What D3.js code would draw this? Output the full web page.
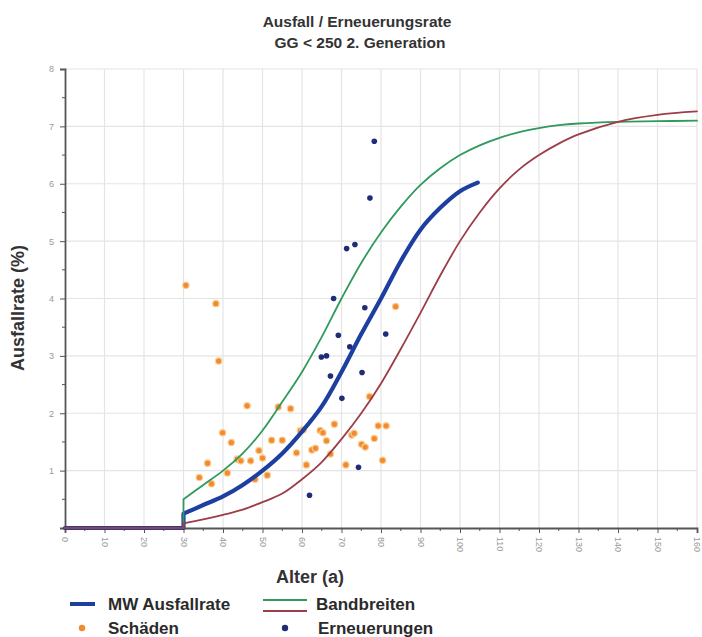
<!DOCTYPE html>
<html>
<head>
<meta charset="utf-8">
<script src="https://cdn.jsdelivr.net/npm/d3@7"></script>
<style>
  body { margin: 0; background: #fff; }
  svg { font-family: "Liberation Sans", Arial, sans-serif; }
</style>
</head>
<body>
<script>
// Ausfall / Erneuerungsrate chart

var width = 702;
var height = 637;

// curves (age in years, rate in %)
var kurveAlter = [30, 35, 40, 45, 50, 55, 60, 65, 70, 75, 80, 85, 90, 95, 100, 104.5];
var mwWerte    = [0.25, 0.4, 0.55, 0.75, 1.0, 1.3, 1.68, 2.12, 2.72, 3.38, 4.0, 4.65, 5.2, 5.58, 5.87, 6.02];

var bandAlter  = [30, 35, 40, 45, 50, 55, 60, 65, 70, 75, 80, 85, 90, 95, 100, 105, 110, 115, 120, 125, 130, 140, 150, 160];
var bandOben   = [0.5, 0.75, 1.0, 1.3, 1.7, 2.2, 2.72, 3.33, 4.0, 4.62, 5.15, 5.6, 5.98, 6.27, 6.5, 6.67, 6.8, 6.9, 6.97, 7.02, 7.05, 7.08, 7.09, 7.1];
var bandUnten  = [0.08, 0.15, 0.23, 0.32, 0.45, 0.6, 0.85, 1.15, 1.55, 2.0, 2.52, 3.12, 3.75, 4.4, 5.0, 5.5, 5.92, 6.25, 6.5, 6.7, 6.86, 7.08, 7.2, 7.26];

// flat start before age 30
var startAlter = [0, 30];

// Schäden (orange points)
var schadenAlter = [30.6, 38.2, 38.9, 46.1, 54, 57.1, 39.9, 42.1, 36.1, 34, 37.1, 41.1, 43.6, 44.5, 47,
  49.1, 50, 48.1, 51.2, 52.3, 55, 58.6, 59.6, 60.3, 61.1, 62.5, 63.4, 64.6, 65.3, 66.2, 67.2, 68.2,
  71.1, 72.6, 73.2, 75.1, 76, 77.1, 78.3, 79.3, 81.3, 80.4, 83.7];
var schadenWert = [4.23, 3.91, 2.91, 2.13, 2.11, 2.08, 1.66, 1.49, 1.13, 0.88, 0.77, 0.96, 1.2, 1.17, 1.17,
  1.35, 1.22, 0.85, 0.92, 1.53, 1.53, 1.31, 1.7, 1.71, 1.1, 1.36, 1.39, 1.7, 1.66, 1.52, 1.29, 1.81,
  1.1, 1.62, 1.65, 1.46, 1.41, 2.29, 1.56, 1.78, 1.78, 1.18, 3.86];

// Erneuerungen (blue points)
var erneuerAlter = [61.9, 64.9, 66.2, 67.2, 68, 69.2, 70.1, 71.3, 72.1, 73.4, 74.3, 75.2, 75.9, 77.2, 78.3, 81.2];
var erneuerWert  = [0.57, 2.98, 3.0, 2.65, 4.0, 3.36, 2.26, 4.87, 3.16, 4.94, 1.06, 2.71, 3.84, 5.75, 6.74, 3.38];

var xTicks = d3.range(0, 161, 10);
var yTicks = [1, 2, 3, 4, 5, 6, 7, 8];

var svg = d3.select("body").append("svg")
    .attr("width", width)
    .attr("height", height);

var x = d3.scaleLinear().domain([0, 160]).range([65, 697]);
var y = d3.scaleLinear().domain([0, 8]).range([528, 69]);

// title
svg.append("text")
    .attr("x", 357).attr("y", 27)
    .attr("text-anchor", "middle")
    .attr("font-size", 15.5).attr("font-weight", "bold").attr("fill", "#333")
    .text("Ausfall / Erneuerungsrate");
svg.append("text")
    .attr("x", 360).attr("y", 48)
    .attr("text-anchor", "middle")
    .attr("font-size", 15.5).attr("font-weight", "bold").attr("fill", "#333")
    .text("GG < 250 2. Generation");

// grid
svg.append("g").selectAll("line")
  .data(xTicks.slice(1))
  .enter().append("line")
    .attr("x1", function(d) { return x(d); })
    .attr("x2", function(d) { return x(d); })
    .attr("y1", y(8)).attr("y2", y(0))
    .attr("stroke", "#e4e4e4").attr("stroke-width", 1.2);
svg.append("g").selectAll("line")
  .data(yTicks)
  .enter().append("line")
    .attr("x1", x(0)).attr("x2", x(160))
    .attr("y1", function(d) { return y(d); })
    .attr("y2", function(d) { return y(d); })
    .attr("stroke", "#e4e4e4").attr("stroke-width", 1.2);

// y axis
var yAxis = svg.append("g")
    .attr("transform", "translate(" + x(0) + ",0)")
    .call(d3.axisLeft(y).tickValues(yTicks).tickSize(5).tickPadding(6));
yAxis.append("g").selectAll("line")
  .data(d3.range(0.5, 8, 1))
  .enter().append("line")
    .attr("x1", -3).attr("x2", 0)
    .attr("y1", function(d) { return y(d); })
    .attr("y2", function(d) { return y(d); })
    .attr("stroke", "#555");

// x axis
var xAxis = svg.append("g")
    .attr("transform", "translate(0," + y(0) + ")")
    .call(d3.axisBottom(x).tickValues(xTicks).tickSize(5).tickPadding(6));
xAxis.append("g").selectAll("line")
  .data(d3.range(5, 160, 10))
  .enter().append("line")
    .attr("x1", function(d) { return x(d); })
    .attr("x2", function(d) { return x(d); })
    .attr("y1", 0).attr("y2", 3)
    .attr("stroke", "#555");
xAxis.selectAll(".tick text")
    .attr("transform", "rotate(90)")
    .attr("text-anchor", "start")
    .attr("x", 9).attr("y", 0).attr("dy", "0.35em");

[yAxis, xAxis].forEach(function(a) {
  a.select(".domain").attr("stroke", "#555").attr("stroke-width", 1.8);
  a.selectAll(".tick line").attr("stroke", "#555");
  a.selectAll(".tick text").attr("fill", "#999").attr("font-size", 9);
});

// axis titles
svg.append("text")
    .attr("transform", "translate(24,308) rotate(-90)")
    .attr("text-anchor", "middle")
    .attr("font-size", 18).attr("font-weight", "bold").attr("fill", "#333")
    .text("Ausfallrate (%)");
svg.append("text")
    .attr("x", 310).attr("y", 583)
    .attr("text-anchor", "middle")
    .attr("font-size", 18).attr("font-weight", "bold").attr("fill", "#333")
    .text("Alter (a)");

// lines
var line = d3.line()
    .x(function(d) { return x(d[0]); })
    .y(function(d) { return y(d[1]); })
    .curve(d3.curveCatmullRom.alpha(0.5));
var flat = d3.line()
    .x(function(d) { return x(d[0]); })
    .y(function(d) { return y(d[1]); });

var drawCurve = function(ages, vals, color, w) {
  var pts = ages.map(function(a, i) { return [a, vals[i]]; });
  var start = startAlter.map(function(a) { return [a, 0]; });
  svg.append("path")
      .attr("d", flat(start.concat([pts[0]])) + line(pts).replace(/^M[^LC]*/, ""))
      .attr("fill", "none")
      .attr("stroke", color)
      .attr("stroke-width", w)
      .attr("stroke-linejoin", "round")
      .attr("stroke-linecap", "round");
};

// orange points (under the lines)
svg.append("g").selectAll("circle")
  .data(schadenAlter)
  .enter().append("circle")
    .attr("cx", function(d) { return x(d); })
    .attr("cy", function(d, i) { return y(schadenWert[i]); })
    .attr("r", 3.2)
    .attr("fill", "#f28a2e")
    .attr("stroke", "#f9cf98")
    .attr("stroke-width", 1.2);

drawCurve(kurveAlter, mwWerte, "#1d3fa0", 4.2);
drawCurve(bandAlter, bandOben, "#2f9a5c", 1.8);
drawCurve(bandAlter, bandUnten, "#9c3d48", 1.8);

svg.append("g").selectAll("circle")
  .data(erneuerAlter)
  .enter().append("circle")
    .attr("cx", function(d) { return x(d); })
    .attr("cy", function(d, i) { return y(erneuerWert[i]); })
    .attr("r", 2.8)
    .attr("fill", "#1f2d78");

// legend
var leg = svg.append("g").attr("font-size", 17).attr("font-weight", "bold").attr("fill", "#2a2a2a");
leg.append("line").attr("x1", 70).attr("x2", 95).attr("y1", 604).attr("y2", 604)
    .attr("stroke", "#1d3fa0").attr("stroke-width", 4);
leg.append("text").attr("x", 108).attr("y", 610).text("MW Ausfallrate");
leg.append("line").attr("x1", 263).attr("x2", 307).attr("y1", 600).attr("y2", 600)
    .attr("stroke", "#2f9a5c").attr("stroke-width", 2);
leg.append("line").attr("x1", 263).attr("x2", 307).attr("y1", 611).attr("y2", 611)
    .attr("stroke", "#9c3d48").attr("stroke-width", 2);
leg.append("text").attr("x", 316).attr("y", 610).text("Bandbreiten");
leg.append("circle").attr("cx", 82).attr("cy", 628).attr("r", 3.2).attr("fill", "#f28a2e");
leg.append("text").attr("x", 108).attr("y", 634).text("Schäden");
leg.append("circle").attr("cx", 285).attr("cy", 628).attr("r", 3.2).attr("fill", "#1f2d78");
leg.append("text").attr("x", 318).attr("y", 634).text("Erneuerungen");
</script>
</body>
</html>
